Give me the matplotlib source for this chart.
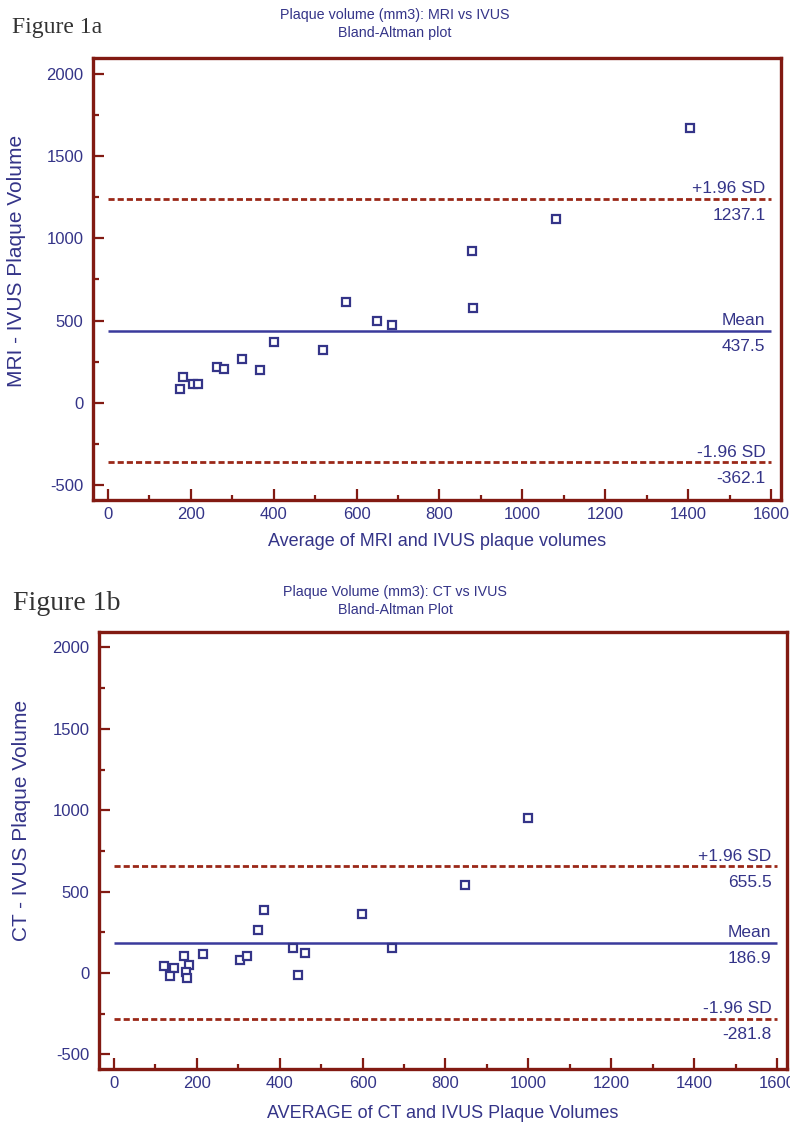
import matplotlib
matplotlib.use("Agg")
import matplotlib.pyplot as plt
from matplotlib.ticker import MultipleLocator

plt.rcParams['font.family'] = ['Liberation Sans', 'DejaVu Sans']
plt.rcParams['axes.unicode_minus'] = False

# Figure 1a: MRI vs IVUS
mri_avg = [174, 182, 206, 218, 264, 281, 324, 366, 400, 518, 574, 649, 685, 879, 881, 1082, 1404]
mri_diff = [85, 158, 115, 115, 218, 206, 267, 200, 370, 321, 612, 497, 473, 921, 576, 1115, 1667]
mri_limits = [1237.1, 437.5, -362.1]   # +1.96 SD, mean, -1.96 SD

# Figure 1b: CT vs IVUS
ct_avg = [120, 145, 136, 170, 180, 175, 177, 216, 303, 322, 347, 363, 431, 445, 460, 598, 670, 846, 1000]
ct_diff = [43, 30, -18, 104, 49, 6, -30, 116, 79, 104, 262, 384, 152, -12, 122, 360, 152, 543, 950]
ct_limits = [655.5, 186.9, -281.8]

limit_names = ["+1.96 SD", "Mean", "-1.96 SD"]

NAVY = "#343488"
MAROON = "#821a12"
DASH = "#9a2818"
W, H = 790, 1129


def bland_altman(ax, avg, diff, limits, xlabel, ylabel, title, fig_label, label_xy, lab_size,
                 title_y, xlab_y, ylab_xy):
    ax.plot(avg, diff, linestyle='none', marker='s', markersize=5.5, markerfacecolor='white',
            markeredgecolor=NAVY, markeredgewidth=1.6, zorder=3)
    for val, name in zip(limits, limit_names):
        if name == "Mean":
            ax.hlines(val, 0, 1600, colors="#3a3a9c", linewidth=1.8)
        else:
            ln = ax.hlines(val, 0, 1600, colors=DASH, linewidth=2.0, linestyles=(0, (2.2, 1.1)))
            ln.set_capstyle('butt')
        ax.annotate(name, (1600, val), xytext=(-4, 2), textcoords='offset points',
                    ha='right', va='bottom', fontsize=12.5, color=NAVY)
        ax.annotate(f"{val:.1f}", (1600, val), xytext=(-4, -6), textcoords='offset points',
                    ha='right', va='top', fontsize=12.5, color=NAVY)

    ax.set_xlim(-36, 1624)
    ax.set_ylim(-590, 2095)
    ax.xaxis.set_major_locator(MultipleLocator(200))
    ax.xaxis.set_minor_locator(MultipleLocator(100))
    ax.yaxis.set_major_locator(MultipleLocator(500))
    ax.yaxis.set_minor_locator(MultipleLocator(250))
    ax.tick_params(which='both', direction='in', color=MAROON, width=1.6,
                   labelcolor=NAVY, labelsize=12)
    ax.tick_params(axis='x', which='major', length=8, pad=5)
    ax.tick_params(axis='x', which='minor', length=3.5)
    ax.tick_params(axis='y', which='major', length=8, pad=7)
    ax.tick_params(axis='y', which='minor', length=4.5)
    for sp in ax.spines.values():
        sp.set_color(MAROON)
        sp.set_linewidth(2.4)

    bb = ax.get_position()
    fig = ax.figure
    fig.text(0.5, title_y, title, ha='center', va='top', fontsize=10.3, color=NAVY,
             linespacing=1.4)
    fig.text((bb.x0 + bb.x1) / 2, xlab_y, xlabel, ha='center', va='center',
             fontsize=13, color=NAVY)
    fig.text(ylab_xy[0], ylab_xy[1], ylabel, ha='center', va='center',
             rotation=90, fontsize=15, color=NAVY)
    fig.text(label_xy[0], label_xy[1], fig_label, ha='left', va='baseline',
             fontsize=lab_size, color="#333333", family='Liberation Serif')


fig = plt.figure(figsize=(W / 100, H / 100), dpi=100)
ax1 = fig.add_axes([93 / W, 1 - 500 / H, (781 - 93) / W, (500 - 58) / H])
ax2 = fig.add_axes([99 / W, 1 - 1069 / H, (787 - 99) / W, (1069 - 632) / H])

bland_altman(ax1, mri_avg, mri_diff, mri_limits,
             "Average of MRI and IVUS plaque volumes", "MRI - IVUS Plaque Volume",
             "Plaque volume (mm3): MRI vs IVUS\nBland-Altman plot", "Figure 1a",
             (12 / W, 1 - 33 / H), 17, 1 - 8 / H, 1 - 541 / H, (17 / W, 1 - 261 / H))
bland_altman(ax2, ct_avg, ct_diff, ct_limits,
             "AVERAGE of CT and IVUS Plaque Volumes", "CT - IVUS Plaque Volume",
             "Plaque Volume (mm3): CT vs IVUS\nBland-Altman Plot", "Figure 1b",
             (13 / W, 1 - 610 / H), 20, 1 - 585 / H, 1 - 1114 / H, (22 / W, 1 - 820 / H))

fig.savefig("out.png", dpi=100, facecolor='white')
